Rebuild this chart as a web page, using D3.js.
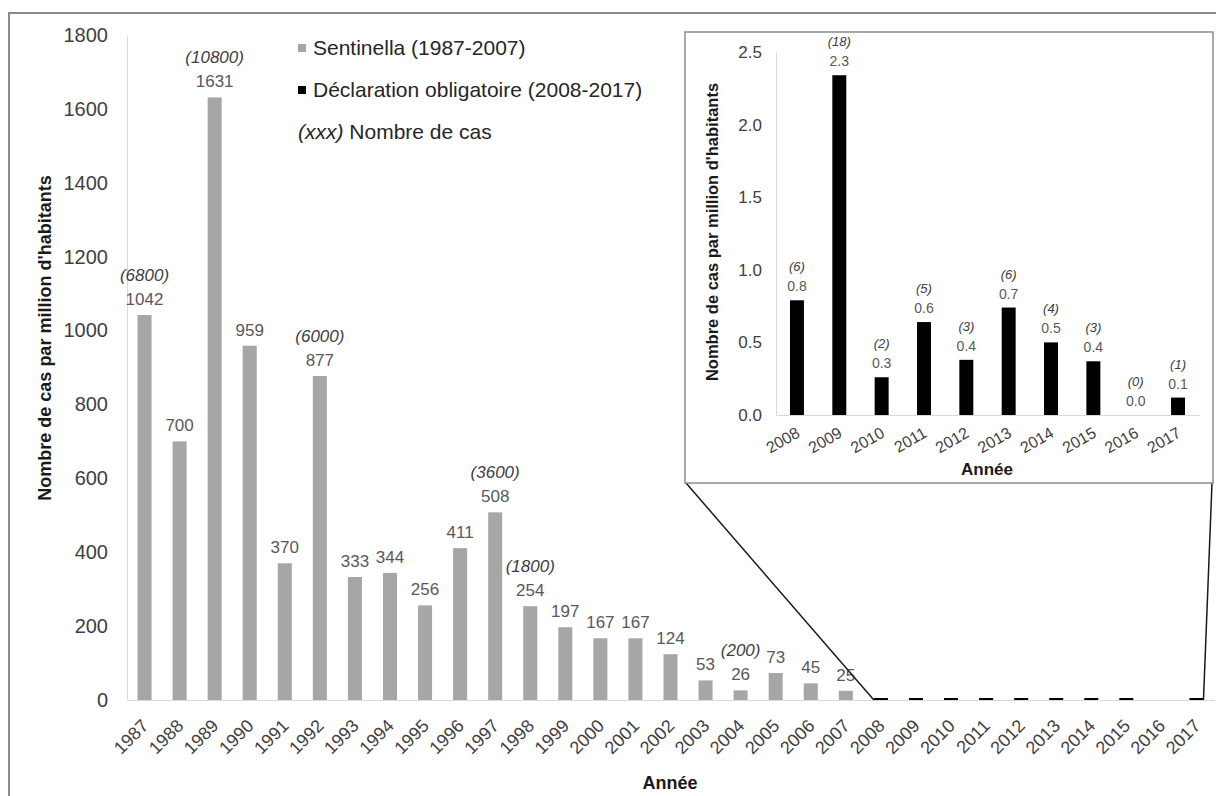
<!DOCTYPE html>
<html>
<head>
<meta charset="utf-8">
<script src="https://cdn.jsdelivr.net/npm/d3@7"></script>
<style>
  body { margin: 0; background: #fff; }
  svg text { font-family: "Liberation Sans", Arial, sans-serif; }
</style>
</head>
<body>
<div id="chart"></div>
<script>
// Sentinella period (rate per million, case counts only where printed)
var sentinellaYears = ["1987", "1988", "1989", "1990", "1991", "1992", "1993", "1994", "1995", "1996", "1997",
    "1998", "1999", "2000", "2001", "2002", "2003", "2004", "2005", "2006", "2007"];
var sentinellaValues = [1042, 700, 1631, 959, 370, 877, 333, 344, 256, 411, 508, 254, 197, 167, 167, 124, 53, 26, 73, 45, 25];
var sentinellaCases = [6800, null, 10800, null, null, 6000, null, null, null, null, 3600, 1800, null, null, null, null, null, 200, null, null, null];

// Mandatory notification period
var ddoYears = ["2008", "2009", "2010", "2011", "2012", "2013", "2014", "2015", "2016", "2017"];
var ddoValues = [0.79, 2.34, 0.26, 0.64, 0.38, 0.74, 0.50, 0.37, 0.0, 0.12];
var ddoCases = [6, 18, 2, 5, 3, 6, 4, 3, 0, 1];

var mainTicks = [0, 200, 400, 600, 800, 1000, 1200, 1400, 1600, 1800];
var insetTicks = [0, 0.5, 1.0, 1.5, 2.0, 2.5];
var legendLabels = ["Sentinella (1987-2007)", "Déclaration obligatoire (2008-2017)"];
var yTitle = "Nombre de cas par million d'habitants";
var xTitle = "Année";

var grey = "#a6a6a6";
var axisColor = "#d9d9d9";

var svg = d3.select("#chart")
    .append("svg")
    .attr("width", 1216)
    .attr("height", 796);

// outer frame (top and left edges visible)
svg.append("path")
    .attr("d", "M9,796 L9,13 L1216,13")
    .style("fill", "none")
    .style("stroke", "#8a8a8a")
    .style("stroke-width", 2);

var sentData = sentinellaYears.map(function (d, i) {
    return { year: d, value: sentinellaValues[i], cases: sentinellaCases[i] };
});
var ddoData = ddoYears.map(function (d, i) {
    return { year: d, value: ddoValues[i], cases: ddoCases[i] };
});

// ---------- main chart ----------
var x = d3.scaleBand()
    .domain(sentinellaYears.concat(ddoYears))
    .range([127, 1214])
    .paddingInner(0.6)
    .paddingOuter(0.3);
var y = d3.scaleLinear().domain([0, 1800]).range([700, 35]);

var yAxis = svg.append("g")
    .attr("transform", "translate(127,0)")
    .call(d3.axisLeft(y).tickValues(mainTicks).tickFormat(d3.format("d")).tickSize(0).tickSizeOuter(0).tickPadding(19));
yAxis.select(".domain").style("stroke", axisColor);
yAxis.selectAll("text").style("font-size", "20px").style("fill", "#404040");

var xAxis = svg.append("g")
    .attr("transform", "translate(0,700)")
    .call(d3.axisBottom(x).tickSize(0).tickSizeOuter(0));
xAxis.select(".domain").style("stroke", axisColor);
xAxis.selectAll("text")
    .attr("x", 0)
    .attr("y", 0)
    .attr("dy", 0)
    .attr("transform", "translate(5,27) rotate(-45)")
    .style("text-anchor", "end")
    .style("font-size", "18px")
    .style("fill", "#404040");

svg.selectAll("rect.sent")
    .data(sentData)
    .enter()
    .append("rect")
    .attr("class", "sent")
    .attr("x", function (d) { return x(d.year); })
    .attr("width", x.bandwidth())
    .attr("y", function (d) { return y(d.value); })
    .attr("height", function (d) { return y(0) - y(d.value); })
    .style("fill", grey);

// tiny black bars: too small at this scale, drawn as a thin dash
svg.selectAll("rect.ddo")
    .data(ddoData)
    .enter()
    .append("rect")
    .attr("class", "ddo")
    .attr("x", function (d) { return x(d.year); })
    .attr("width", x.bandwidth())
    .attr("y", function (d) { return y(0) - (d.value > 0 ? 2 : 0); })
    .attr("height", function (d) { return d.value > 0 ? 2 : 0; })
    .style("fill", "#000");

svg.selectAll("text.val")
    .data(sentData)
    .enter()
    .append("text")
    .attr("class", "val")
    .attr("x", function (d) { return x(d.year) + x.bandwidth() / 2; })
    .attr("y", function (d) { return y(d.value) - 10; })
    .attr("text-anchor", "middle")
    .style("font-size", "17px")
    .style("fill", "#595959")
    .text(function (d) { return d.value; });

svg.selectAll("text.cases")
    .data(sentData.filter(function (d) { return d.cases != null; }))
    .enter()
    .append("text")
    .attr("class", "cases")
    .attr("x", function (d) { return x(d.year) + x.bandwidth() / 2; })
    .attr("y", function (d) { return y(d.value) - 34; })
    .attr("text-anchor", "middle")
    .style("font-size", "17px")
    .style("font-style", "italic")
    .style("fill", "#404040")
    .text(function (d) { return "(" + d.cases + ")"; });

svg.append("text")
    .attr("transform", "translate(51,338) rotate(-90)")
    .attr("text-anchor", "middle")
    .style("font-size", "18px")
    .style("font-weight", "bold")
    .style("fill", "#1a1a1a")
    .text(yTitle);

svg.append("text")
    .attr("x", 670)
    .attr("y", 789)
    .attr("text-anchor", "middle")
    .style("font-size", "18px")
    .style("font-weight", "bold")
    .style("fill", "#1a1a1a")
    .text(xTitle);

// legend
var legend = svg.selectAll(".legend")
    .data(legendLabels)
    .enter()
    .append("g")
    .attr("class", "legend")
    .attr("transform", function (d, i) { return "translate(298," + (48 + i * 42) + ")"; });
legend.append("rect")
    .attr("x", 0)
    .attr("y", -4)
    .attr("width", 8)
    .attr("height", 8)
    .style("fill", function (d, i) { return i == 0 ? grey : "#000"; });
legend.append("text")
    .attr("x", 15)
    .attr("y", 7)
    .style("font-size", "21px")
    .style("fill", "#262626")
    .text(function (d) { return d; });

var note = svg.append("text")
    .attr("x", 298)
    .attr("y", 139)
    .style("font-size", "21px")
    .style("fill", "#262626");
note.append("tspan").style("font-style", "italic").text("(xxx)");
note.append("tspan").text(" Nombre de cas");

// ---------- inset ----------
var inset = { left: 685, top: 32, right: 1213, bottom: 483 };

// zoom connectors
svg.append("line")
    .attr("x1", inset.left + 1).attr("y1", inset.bottom)
    .attr("x2", x("2008")).attr("y2", y(0))
    .style("stroke", "#1a1a1a").style("stroke-width", 1.5);
svg.append("line")
    .attr("x1", inset.right - 1).attr("y1", inset.bottom)
    .attr("x2", x("2017") + x.bandwidth()).attr("y2", y(0))
    .style("stroke", "#1a1a1a").style("stroke-width", 1.5);

svg.append("rect")
    .attr("x", inset.left)
    .attr("y", inset.top)
    .attr("width", inset.right - inset.left)
    .attr("height", inset.bottom - inset.top)
    .style("fill", "#fff")
    .style("stroke", "#8c8c8c")
    .style("stroke-width", 1.5);

var xi = d3.scaleBand()
    .domain(ddoYears)
    .range([776, 1199])
    .paddingInner(0.67)
    .paddingOuter(0.33);
var yi = d3.scaleLinear().domain([0, 2.5]).range([415, 52]);

var yiAxis = svg.append("g")
    .attr("transform", "translate(776,0)")
    .call(d3.axisLeft(yi).tickValues(insetTicks).tickFormat(d3.format(".1f")).tickSize(0).tickSizeOuter(0).tickPadding(14));
yiAxis.select(".domain").style("stroke", axisColor);
yiAxis.selectAll("text").style("font-size", "17px").style("fill", "#404040");

var xiAxis = svg.append("g")
    .attr("transform", "translate(0,415)")
    .call(d3.axisBottom(xi).tickSize(0).tickSizeOuter(0));
xiAxis.select(".domain").style("stroke", axisColor);
xiAxis.selectAll("text")
    .attr("x", 0)
    .attr("y", 0)
    .attr("dy", 0)
    .attr("transform", "translate(4,21) rotate(-30)")
    .style("text-anchor", "end")
    .style("font-size", "16px")
    .style("fill", "#404040");

svg.selectAll("rect.inset")
    .data(ddoData)
    .enter()
    .append("rect")
    .attr("class", "inset")
    .attr("x", function (d) { return xi(d.year); })
    .attr("width", xi.bandwidth())
    .attr("y", function (d) { return yi(d.value); })
    .attr("height", function (d) { return yi(0) - yi(d.value); })
    .style("fill", "#000");

svg.selectAll("text.ival")
    .data(ddoData)
    .enter()
    .append("text")
    .attr("class", "ival")
    .attr("x", function (d) { return xi(d.year) + xi.bandwidth() / 2; })
    .attr("y", function (d) { return yi(d.value) - 9; })
    .attr("text-anchor", "middle")
    .style("font-size", "14px")
    .style("fill", "#595959")
    .text(function (d) { return d3.format(".1f")(d.value); });

svg.selectAll("text.icases")
    .data(ddoData)
    .enter()
    .append("text")
    .attr("class", "icases")
    .attr("x", function (d) { return xi(d.year) + xi.bandwidth() / 2; })
    .attr("y", function (d) { return yi(d.value) - 29; })
    .attr("text-anchor", "middle")
    .style("font-size", "13px")
    .style("font-style", "italic")
    .style("fill", "#404040")
    .text(function (d) { return "(" + d.cases + ")"; });

svg.append("text")
    .attr("transform", "translate(718,232) rotate(-90)")
    .attr("text-anchor", "middle")
    .style("font-size", "16.5px")
    .style("font-weight", "bold")
    .style("fill", "#1a1a1a")
    .text(yTitle);

svg.append("text")
    .attr("x", 987)
    .attr("y", 475)
    .attr("text-anchor", "middle")
    .style("font-size", "17px")
    .style("font-weight", "bold")
    .style("fill", "#1a1a1a")
    .text(xTitle);
</script>
</body>
</html>
